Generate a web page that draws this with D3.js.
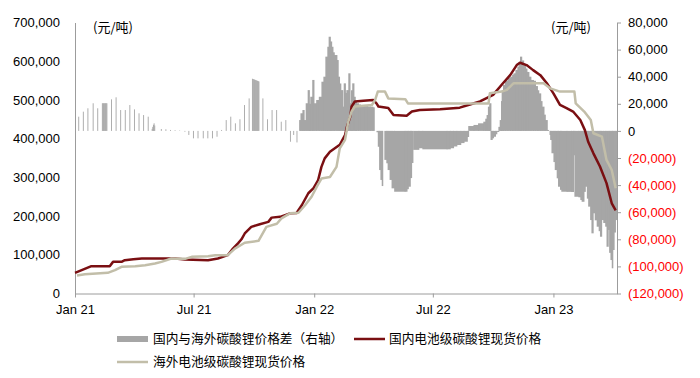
<!DOCTYPE html>
<html><head><meta charset="utf-8">
<script src="https://cdn.jsdelivr.net/npm/d3@7"></script>
<style>
body{margin:0;background:#fff;}
svg{display:block;font-family:"Liberation Sans",Arial,sans-serif;}
</style></head><body>
<svg id="c" width="700" height="378"></svg>
<script>
// ---- DATA ----
// Price gap (domestic - overseas), right axis; weekly in 2021
const diffWeekly = [
["2021-01-06",10500],["2021-01-13",14200],["2021-01-20",16700],["2021-01-28",20400],["2021-02-04",16700],
["2021-02-11",20400],["2021-02-12",20400],["2021-02-13",20400],["2021-02-14",20400],["2021-02-15",20400],["2021-02-16",20400],["2021-02-17",20400],["2021-02-18",20400],
["2021-02-25",23300],["2021-03-04",24800],["2021-03-11",15400],["2021-03-18",15400],["2021-03-25",19100],
["2021-04-01",15900],["2021-04-08",13000],["2021-04-15",11700],["2021-04-22",10500],
["2021-04-28",1500],["2021-04-29",3000],["2021-04-30",4500],["2021-05-01",5600],["2021-05-02",4000],
["2021-05-12",1400],["2021-05-19",1200],["2021-05-26",700],["2021-06-02",500],["2021-06-09",300],
["2021-06-17",-600],["2021-06-23",-3000],["2021-06-30",-5500],["2021-07-07",-5500],["2021-07-15",-5500],
["2021-07-22",-5500],["2021-07-29",-5500],["2021-08-05",-4300],["2021-08-12",700],["2021-08-19",8000],
["2021-08-26",10500],["2021-09-02",5600],["2021-09-09",8600],["2021-09-16",19100],["2021-09-23",24000],
["2021-09-28",38500],["2021-09-29",38300],["2021-09-30",38100],["2021-10-01",37900],["2021-10-02",37700],["2021-10-03",37500],
["2021-10-04",37300],["2021-10-05",37100],["2021-10-06",36900],["2021-10-07",36700],["2021-10-08",36500],
["2021-10-14",24000],["2021-10-21",8600],["2021-10-28",15400],["2021-11-04",15400],["2021-11-11",6800],
["2021-11-18",8000],["2021-11-25",-8000],["2021-11-30",-3000],["2021-12-05",-8500]
];
// Price gap, daily from Dec 2021 (each value holds until the next date)
const diffDaily = [
["2021-12-09",8000],["2021-12-11",13000],["2021-12-14",15400],["2021-12-16",8000],["2021-12-19",20400],
["2021-12-22",30100],["2021-12-24",20000],["2021-12-26",25200],["2021-12-29",37600],["2021-12-31",20400],
["2022-01-04",22800],["2022-01-08",25200],["2022-01-12",36300],["2022-01-15",40000],["2022-01-18",54800],
["2022-01-21",62100],["2022-01-23",69500],["2022-01-25",66000],["2022-01-27",62100],["2022-01-29",58000],
["2022-01-31",56000],["2022-02-04",52300],["2022-02-06",40000],["2022-02-08",35000],["2022-02-10",30100],
["2022-02-13",17900],["2022-02-15",35100],["2022-02-17",28000],["2022-02-19",30100],["2022-02-22",42500],
["2022-02-24",20400],["2022-02-26",30000],["2022-02-28",35100],["2022-03-02",25200],["2022-03-04",22000],
["2022-03-06",20400],["2022-03-09",19500],["2022-03-12",19100],["2022-03-16",18700],["2022-03-19",18400],
["2022-03-23",18000],["2022-03-27",17900],["2022-03-31",17400],["2022-04-02",0],["2022-04-06",-1000],
["2022-04-08",-11700],["2022-04-10",-28900],["2022-04-12",-36200],["2022-04-14",-40700],["2022-04-15",0],
["2022-04-18",-21400],["2022-04-21",-23900],["2022-04-23",-28900],["2022-04-26",-36200],["2022-04-29",-42400],
["2022-05-03",-44900],["2022-05-19",-44900],["2022-05-22",-43000],["2022-05-24",-41200],["2022-05-27",-34800],
["2022-05-29",-23700],["2022-05-31",0],["2022-06-01",-14000],["2022-06-09",-12800],["2022-06-15",-13600],
["2022-07-22",-13600],["2022-07-27",-12800],["2022-08-01",-11500],["2022-08-06",-10400],["2022-08-12",-9000],
["2022-08-17",-8000],["2022-08-22",-4500],["2022-08-24",3600],["2022-09-01",4400],["2022-09-08",5600],
["2022-09-16",6800],["2022-09-19",9000],["2022-09-21",11700],["2022-09-23",17900],["2022-09-25",20400],
["2022-09-27",-6700],["2022-09-29",-5500],["2022-10-01",-4300],["2022-10-04",-2500],["2022-10-06",-800],
["2022-10-09",3000],["2022-10-11",8000],["2022-10-13",22000],["2022-10-14",30100],["2022-10-16",34000],
["2022-10-19",37000],["2022-10-23",39000],["2022-10-27",40000],["2022-10-30",41500],["2022-11-01",42500],
["2022-11-04",45000],["2022-11-07",47400],["2022-11-09",51000],["2022-11-11",54800],["2022-11-13",52000],
["2022-11-16",48600],["2022-11-19",46000],["2022-11-21",43500],["2022-11-24",40000],["2022-11-27",37600],
["2022-12-01",37000],["2022-12-04",33100],["2022-12-07",30000],["2022-12-09",27700],["2022-12-12",22000],
["2022-12-14",17900],["2022-12-17",12000],["2022-12-19",8000],["2022-12-22",700],["2022-12-24",0],
["2022-12-26",-3000],["2022-12-27",-6700],["2022-12-29",-16500],["2023-01-01",-23000],["2023-01-03",-28900],
["2023-01-06",-35000],["2023-01-08",-41200],["2023-01-11",-43500],["2023-01-13",-44900],["2023-01-21",-45000],
["2023-01-28",-45100],["2023-01-31",-18000],["2023-02-02",-48600],["2023-02-08",-49000],["2023-02-11",-51000],
["2023-02-13",-52300],["2023-02-16",-45000],["2023-02-18",-41200],["2023-02-21",-50000],["2023-02-23",-55900],
["2023-02-26",-65800],["2023-02-28",-75600],["2023-03-02",-60800],["2023-03-05",-66000],["2023-03-08",-70700],
["2023-03-11",-74000],["2023-03-13",-78100],["2023-03-15",-65800],["2023-03-18",-68000],["2023-03-21",-70700],
["2023-03-23",-85500],["2023-03-25",-73100],["2023-03-27",-90000],["2023-03-29",-95300],["2023-03-31",-101400],
["2023-04-01",-87900],["2023-04-03",-75000],["2023-04-05",-65800],["2023-04-07",-63300]
];
// Domestic battery-grade lithium carbonate spot price (left axis)
const domestic = [
["2021-01-01",53300],["2021-01-26",70600],["2021-02-23",70600],["2021-02-28",81700],["2021-03-13",81700],
["2021-03-18",86100],["2021-03-31",88700],["2021-04-13",90500],["2021-06-03",90500],["2021-06-18",88000],
["2021-07-23",86100],["2021-08-07",90500],["2021-08-22",99000],["2021-08-30",116000],["2021-09-07",130000],
["2021-09-12",140000],["2021-09-17",155000],["2021-09-27",172000],["2021-10-10",179000],["2021-10-23",185000],
["2021-10-28",196000],["2021-11-10",198000],["2021-11-25",207000],["2021-12-05",208000],["2021-12-13",228000],
["2021-12-23",259000],["2021-12-31",272000],["2022-01-07",293000],["2022-01-12",327000],["2022-01-17",349000],
["2022-01-25",366000],["2022-02-09",384000],["2022-02-17",409000],["2022-02-20",431000],["2022-02-25",457000],
["2022-02-27",483000],["2022-03-04",496000],["2022-03-17",498000],["2022-04-01",500000],["2022-04-06",491000],
["2022-04-09",483000],["2022-04-24",479000],["2022-05-02",461000],["2022-05-22",459000],["2022-05-30",470000],
["2022-06-11",474000],["2022-07-12",476000],["2022-08-11",480000],["2022-08-24",487000],["2022-09-11",496000],
["2022-10-01",513000],["2022-10-16",543000],["2022-10-27",564000],["2022-11-06",590000],["2022-11-11",596000],
["2022-11-21",590000],["2022-12-01",577000],["2022-12-12",564000],["2022-12-22",543000],["2023-01-01",517000],
["2023-01-11",487000],["2023-01-21",479000],["2023-01-31",470000],["2023-02-11",448000],["2023-02-18",422000],
["2023-02-23",392000],["2023-03-03",362000],["2023-03-13",328000],["2023-03-23",285000],["2023-03-31",233000],
["2023-04-06",215000]
];
// Overseas battery-grade lithium carbonate spot price (left axis)
const overseas = [
["2021-01-04",46600],["2021-01-16",50000],["2021-02-20",53300],["2021-03-03",60300],["2021-03-13",68800],
["2021-04-03",70600],["2021-04-18",73200],["2021-05-03",77600],["2021-05-13",81700],["2021-05-28",90500],
["2021-06-18",89500],["2021-06-28",94700],["2021-07-23",96500],["2021-08-03",99000],["2021-08-22",99000],
["2021-09-02",116000],["2021-09-17",131000],["2021-10-08",136000],["2021-10-20",172000],["2021-11-05",180000],
["2021-11-12",194000],["2021-11-25",207000],["2021-12-08",208500],["2021-12-18",228000],["2021-12-28",250000],
["2022-01-05",276000],["2022-01-12",297000],["2022-01-25",301000],["2022-02-04",327000],["2022-02-09",375000],
["2022-02-17",397000],["2022-02-22",444000],["2022-02-27",470000],["2022-03-04",483000],["2022-03-30",487000],
["2022-04-04",500000],["2022-04-08",521500],["2022-04-19",521500],["2022-04-24",504000],["2022-05-20",502000],
["2022-05-24",491000],["2022-09-24",491000],["2022-09-26",517000],["2022-10-14",521500],["2022-10-22",526000],
["2022-11-01",543000],["2022-12-17",543000],["2022-12-27",530000],["2023-01-11",521500],["2023-02-02",521500],
["2023-02-04",491000],["2023-02-17",470000],["2023-02-27",448000],["2023-03-03",414000],["2023-03-16",405000],
["2023-03-23",345000],["2023-03-31",319000],["2023-04-06",272000]
];
const leftTicks = [0,100000,200000,300000,400000,500000,600000,700000];
const rightTicks = [-120000,-100000,-80000,-60000,-40000,-20000,0,20000,40000,60000,80000];
const xTicks = ["2021-01-01","2021-07-01","2022-01-01","2022-07-01","2023-01-01"];
const xDomain = ["2021-01-01","2023-04-08"];
const unitLabel = "(元/吨)";
const seriesNames = ["国内与海外碳酸锂价格差（右轴）","国内电池级碳酸锂现货价格","海外电池级碳酸锂现货价格"];
const colors = {bar:"#a6a6a6", dom:"#7a0f12", ovs:"#c2bea9", axis:"#9c9c9c", neg:"#ff0000"};

// ---- CHART ----
(function(){
const parse = d3.timeParse("%Y-%m-%d");
const svg = d3.select("#c");
const pTop = 22.5, pBottom = 293.5, pLeft = 75, pRight = 617;
const x = d3.scaleTime().domain(xDomain.map(parse)).range([pLeft, pRight]);
const yL = d3.scaleLinear().domain([0,700000]).range([pBottom, pTop]);
const yR = d3.scaleLinear().domain([-120000,80000]).range([pBottom, pTop]);
const fmt = d3.format(",");
const oneDay = 864e5;

const g = svg.append("g");
g.selectAll("rect.w").data(diffWeekly).join("rect").attr("class","w")
  .attr("x", d => x(parse(d[0])))
  .attr("width", d => x(new Date(+parse(d[0]) + oneDay)) - x(parse(d[0])) + 0.25)
  .attr("y", d => Math.min(yR(d[1]), yR(0)))
  .attr("height", d => Math.abs(yR(d[1]) - yR(0)))
  .attr("fill", colors.bar);
const dd = diffDaily.map((d,i) => {
  const t = parse(d[0]);
  const t2 = i < diffDaily.length-1 ? parse(diffDaily[i+1][0]) : new Date(+t + oneDay);
  return {t, t2, v:d[1]};
}).filter(d => d.v !== 0);
g.selectAll("rect.d").data(dd).join("rect").attr("class","d")
  .attr("x", d => x(d.t))
  .attr("width", d => x(d.t2) - x(d.t) + 0.9)
  .attr("y", d => Math.min(yR(d.v), yR(0)))
  .attr("height", d => Math.abs(yR(d.v) - yR(0)))
  .attr("fill", colors.bar);

const axL = svg.append("g").attr("transform",`translate(${pLeft},0)`)
  .call(d3.axisLeft(yL).tickValues(leftTicks).tickFormat(fmt).tickSize(0).tickSizeOuter(0).tickPadding(15));
const axR = svg.append("g").attr("transform",`translate(${pRight},0)`)
  .call(d3.axisRight(yR).tickValues(rightTicks).tickFormat(v => v < 0 ? `(${fmt(-v)})` : fmt(v)).tickSize(4).tickSizeOuter(0).tickPadding(7));
axR.selectAll(".tick text").attr("fill", d => d < 0 ? colors.neg : "#000");
const axX = svg.append("g").attr("transform",`translate(0,${pBottom})`)
  .call(d3.axisBottom(x).tickValues(xTicks.map(parse)).tickFormat(d3.timeFormat("%b %y")).tickSize(4).tickSizeOuter(0).tickPadding(7));
[axL,axR,axX].forEach(a => {
  a.selectAll("path,line").attr("stroke", colors.axis);
  a.selectAll("text").style("font-size","13px").style("font-family","'Liberation Sans',Arial,sans-serif");
});
axL.selectAll("text").attr("fill","#000");
axX.selectAll("text").attr("fill","#000");

const lineL = d3.line().x(d => x(parse(d[0]))).y(d => yL(d[1]));
svg.append("path").datum(domestic).attr("d", lineL).attr("fill","none")
  .attr("stroke", colors.dom).attr("stroke-width",2.5).attr("stroke-linejoin","round");
svg.append("path").datum(overseas).attr("d", lineL).attr("fill","none")
  .attr("stroke", colors.ovs).attr("stroke-width",2.5).attr("stroke-linejoin","round");

const cjk = "'Noto Sans CJK SC','Liberation Sans',sans-serif";
svg.append("text").attr("x",93).attr("y",27).attr("dy","0.35em").text(unitLabel)
  .style("font-size","13px").style("font-family",cjk);
svg.append("text").attr("x",591).attr("y",27).attr("dy","0.35em").attr("text-anchor","end").text(unitLabel)
  .style("font-size","13px").style("font-family",cjk);

const leg = svg.append("g").style("font-size","12.7px").style("font-family",cjk);
leg.append("rect").attr("x",117).attr("y",336).attr("width",31).attr("height",6).attr("fill",colors.bar);
leg.append("text").attr("x",153).attr("y",339).attr("dy","0.35em").text(seriesNames[0]);
leg.append("line").attr("x1",354).attr("x2",385).attr("y1",339).attr("y2",339).attr("stroke",colors.dom).attr("stroke-width",2.5);
leg.append("text").attr("x",389).attr("y",339).attr("dy","0.35em").text(seriesNames[1]);
leg.append("line").attr("x1",117).attr("x2",148).attr("y1",362).attr("y2",362).attr("stroke",colors.ovs).attr("stroke-width",2.5);
leg.append("text").attr("x",153).attr("y",362).attr("dy","0.35em").text(seriesNames[2]);
})();
</script>
</body></html>
